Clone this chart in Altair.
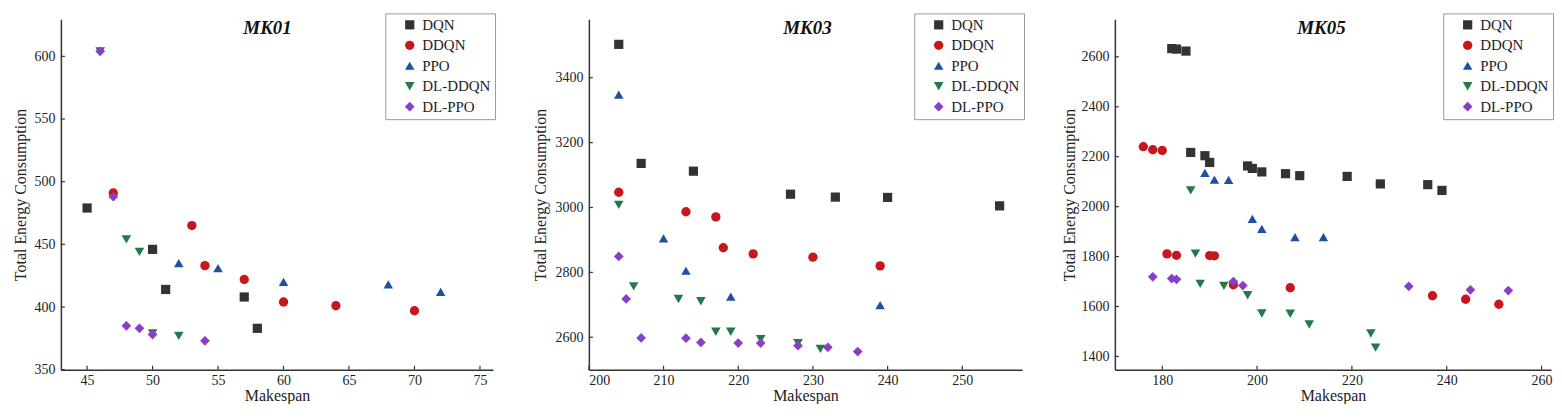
import altair as alt
import pandas as pd

SERIES = ["DQN", "DDQN", "PPO", "DL-DDQN", "DL-PPO"]
COLORS = ["#333333", "#c8161d", "#1f4fa0", "#237a47", "#8a3dc9"]
SHAPES = ["square", "circle", "triangle-up", "triangle-down", "diamond"]
SIZES = [85, 95, 130, 130, 105]

# ---------------- MK01 ----------------
MK01_DQN_X = [45, 50, 51, 57, 58]
MK01_DQN_Y = [479, 446, 414, 408, 383]
MK01_DDQN_X = [47, 53, 54, 57, 60, 64, 70]
MK01_DDQN_Y = [491, 465, 433, 422, 404, 401, 397]
MK01_PPO_X = [52, 55, 60, 68, 72]
MK01_PPO_Y = [435, 431, 420, 418, 412]
MK01_DLDDQN_X = [46, 48, 49, 50, 52]
MK01_DLDDQN_Y = [604, 454, 444, 379, 377]
MK01_DLPPO_X = [46, 47, 48, 49, 50, 54]
MK01_DLPPO_Y = [604, 488, 385, 383, 378, 373]

# ---------------- MK03 ----------------
MK03_DQN_X = [204, 207, 214, 227, 233, 240, 255]
MK03_DQN_Y = [3503, 3136, 3112, 3041, 3032, 3031, 3005]
MK03_DDQN_X = [204, 213, 217, 218, 222, 230, 239]
MK03_DDQN_Y = [3047, 2987, 2971, 2876, 2857, 2847, 2820]
MK03_PPO_X = [204, 210, 213, 219, 239]
MK03_PPO_Y = [3348, 2905, 2805, 2725, 2699]
MK03_DLDDQN_X = [204, 206, 212, 215, 217, 219, 223, 228, 231]
MK03_DLDDQN_Y = [3008, 2757, 2718, 2711, 2617, 2617, 2594, 2582, 2564]
MK03_DLPPO_X = [204, 205, 207, 213, 215, 220, 223, 228, 232, 236]
MK03_DLPPO_Y = [2849, 2718, 2598, 2597, 2584, 2582, 2582, 2574, 2569, 2556]

# ---------------- MK05 ----------------
MK05_DQN_X = [182, 183, 185, 186, 189, 190, 198, 199, 201, 206, 209, 219, 226, 236, 239]
MK05_DQN_Y = [2633, 2631, 2623, 2217, 2204, 2177, 2163, 2153, 2139, 2132, 2124, 2121, 2091, 2088, 2065]
MK05_DDQN_X = [176, 178, 180, 181, 183, 190, 191, 195, 207, 237, 244, 251]
MK05_DDQN_Y = [2240, 2228, 2225, 1811, 1805, 1804, 1803, 1687, 1675, 1643, 1629, 1609]
MK05_PPO_X = [189, 191, 194, 199, 201, 208, 214]
MK05_PPO_Y = [2135, 2108, 2107, 1951, 1911, 1878, 1878]
MK05_DLDDQN_X = [186, 187, 188, 193, 198, 201, 207, 211, 224, 225]
MK05_DLDDQN_Y = [2065, 1812, 1691, 1683, 1645, 1572, 1571, 1528, 1492, 1435]
MK05_DLPPO_X = [178, 182, 183, 195, 197, 232, 245, 253]
MK05_DLPPO_Y = [1719, 1712, 1709, 1700, 1684, 1681, 1667, 1664]

FONT = "Liberation Serif"
LEGEND_W = 108


def make_df(parts):
    rows = []
    for name, xs, ys in parts:
        for x, y in zip(xs, ys):
            rows.append({"Makespan": x, "Energy": y, "Method": name})
    return pd.DataFrame(rows)


def panel(title, df, xdom, ydom, xticks, yticks, width, height, title_pad, title_x):
    legend = alt.Legend(
        orient="none", legendX=width - LEGEND_W, legendY=-6, title=None,
        padding=4, strokeColor="#999999", fillColor="white",
        symbolOffset=13, labelOffset=5, labelFont=FONT, labelFontSize=15,
        labelColor="#222222", rowPadding=4.5, symbolSize=70,
        symbolStrokeWidth=0, symbolOpacity=1,
    )
    xscale = alt.Scale(domain=xdom, nice=False, zero=False)
    yscale = alt.Scale(domain=ydom, nice=False, zero=False)
    xaxis = alt.Axis(values=xticks, title="Makespan", labelPadding=4, titlePadding=0,
                     format="d")
    yaxis = alt.Axis(values=yticks, title="Total Energy Consumption",
                     labelPadding=6, titlePadding=title_pad, format="d")
    points = alt.Chart(df).mark_point(filled=True, opacity=1).encode(
        x=alt.X("Makespan:Q", scale=xscale, axis=xaxis),
        y=alt.Y("Energy:Q", scale=yscale, axis=yaxis),
        color=alt.Color("Method:N", scale=alt.Scale(domain=SERIES, range=COLORS), legend=legend),
        shape=alt.Shape("Method:N", scale=alt.Scale(domain=SERIES, range=SHAPES), legend=legend),
        size=alt.Size("Method:N", scale=alt.Scale(domain=SERIES, range=SIZES), legend=None),
    )
    xt = alt.Chart(pd.DataFrame({"Makespan": xticks})).mark_rule(
        color="#333333", strokeWidth=1.2).encode(
        x=alt.X("Makespan:Q", scale=xscale, axis=xaxis),
        y=alt.value(height), y2=alt.value(height - 4),
    )
    yt = alt.Chart(pd.DataFrame({"Energy": yticks})).mark_rule(
        color="#333333", strokeWidth=1.2).encode(
        y=alt.Y("Energy:Q", scale=yscale, axis=yaxis),
        x=alt.value(0), x2=alt.value(4),
    )
    ttl = alt.Chart(pd.DataFrame({"t": [title]})).mark_text(
        font=FONT, fontSize=19, fontWeight="bold", fontStyle="italic",
        baseline="middle", align="center", color="#111111",
    ).encode(text="t:N", x=alt.value(title_x), y=alt.value(9))
    return alt.layer(points, xt, yt, ttl).properties(width=width, height=height)


df1 = make_df([
    ("DQN", MK01_DQN_X, MK01_DQN_Y), ("DDQN", MK01_DDQN_X, MK01_DDQN_Y),
    ("PPO", MK01_PPO_X, MK01_PPO_Y), ("DL-DDQN", MK01_DLDDQN_X, MK01_DLDDQN_Y),
    ("DL-PPO", MK01_DLPPO_X, MK01_DLPPO_Y)])
df3 = make_df([
    ("DQN", MK03_DQN_X, MK03_DQN_Y), ("DDQN", MK03_DDQN_X, MK03_DDQN_Y),
    ("PPO", MK03_PPO_X, MK03_PPO_Y), ("DL-DDQN", MK03_DLDDQN_X, MK03_DLDDQN_Y),
    ("DL-PPO", MK03_DLPPO_X, MK03_DLPPO_Y)])
df5 = make_df([
    ("DQN", MK05_DQN_X, MK05_DQN_Y), ("DDQN", MK05_DDQN_X, MK05_DDQN_Y),
    ("PPO", MK05_PPO_X, MK05_PPO_Y), ("DL-DDQN", MK05_DLDDQN_X, MK05_DLDDQN_Y),
    ("DL-PPO", MK05_DLPPO_X, MK05_DLPPO_Y)])

p1 = panel("MK01", df1, [43, 76], [350, 629.5], [45, 50, 55, 60, 65, 70, 75],
           [350, 400, 450, 500, 550, 600], 433, 351, 5, 207)
p2 = panel("MK03", df3, [200, 258], [2500, 3580], [200, 210, 220, 230, 240, 250],
           [2600, 2800, 3000, 3200, 3400], 434, 351, 6, 219)
p3 = panel("MK05", df5, [170, 262], [1347, 2750], [180, 200, 220, 240, 260],
           [1400, 1600, 1800, 2000, 2200, 2400, 2600], 437, 351, 3, 207)

chart = alt.hconcat(p1, p2, p3, spacing=37).resolve_scale(
    color="independent", shape="independent", size="independent",
    x="independent", y="independent"
).resolve_legend(color="independent", shape="independent").properties(
    padding={"left": 5, "top": 4, "right": 0, "bottom": 0}, background="white"
).configure_view(strokeWidth=0, strokeOpacity=0).configure_axis(
    grid=False, ticks=False, domainColor="#333333", domainWidth=1.5,
    labelFont=FONT, labelFontSize=14, labelColor="#222222",
    titleFont=FONT, titleFontSize=16, titleFontWeight="normal", titleColor="#222222",
)

chart.save("out.html", embed_options={"renderer": "svg", "actions": False})
